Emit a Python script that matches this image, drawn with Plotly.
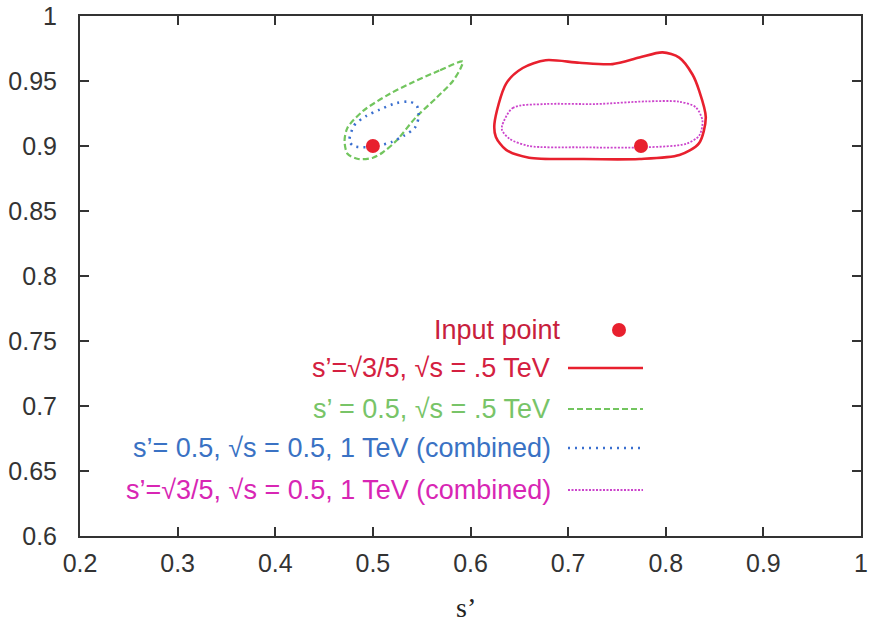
import plotly.graph_objects as go

# ---- data ----
x_ticks = [0.2, 0.3, 0.4, 0.5, 0.6, 0.7, 0.8, 0.9, 1.0]
x_tick_labels = ["0.2", "0.3", "0.4", "0.5", "0.6", "0.7", "0.8", "0.9", "1"]
y_ticks = [0.6, 0.65, 0.7, 0.75, 0.8, 0.85, 0.9, 0.95, 1.0]
y_tick_labels = ["0.6", "0.65", "0.7", "0.75", "0.8", "0.85", "0.9", "0.95", "1"]

input_x = [0.5, 0.7746]
input_y = [0.9, 0.9]

# s'=sqrt(3/5), sqrt(s)=.5 TeV (red solid)
red_x = [0.6245, 0.6365, 0.6535, 0.677, 0.7115, 0.7456, 0.7729, 0.7967, 0.8138,
         0.8274, 0.834, 0.841, 0.834, 0.814, 0.773, 0.7115, 0.660, 0.6365, 0.626]
red_y = [0.917, 0.948, 0.960, 0.966, 0.964, 0.963, 0.968, 0.972, 0.968,
         0.955, 0.943, 0.922, 0.902, 0.893, 0.890, 0.890, 0.891, 0.897, 0.907]

# s'=0.5, sqrt(s)=.5 TeV (green dashed)
green_x = [0.592, 0.568, 0.541, 0.517, 0.490, 0.474, 0.471, 0.474, 0.485, 0.500,
           0.510, 0.524, 0.544, 0.565, 0.582, 0.590]
green_y = [0.965, 0.958, 0.949, 0.940, 0.927, 0.914, 0.904, 0.894, 0.890, 0.891,
           0.895, 0.904, 0.922, 0.937, 0.950, 0.960]

# s'=0.5, sqrt(s)=0.5,1 TeV combined (blue dotted)
blue_x = [0.476, 0.481, 0.493, 0.507, 0.524, 0.538, 0.545, 0.547, 0.543, 0.532,
          0.519, 0.504, 0.493, 0.480]
blue_y = [0.904, 0.916, 0.923, 0.928, 0.933, 0.934, 0.931, 0.923, 0.914, 0.908,
          0.903, 0.900, 0.899, 0.900]

# s'=sqrt(3/5), sqrt(s)=0.5,1 TeV combined (magenta dotted)
mag_x = [0.6324, 0.6433, 0.6774, 0.7286, 0.7797, 0.8138, 0.8309, 0.8376, 0.8343,
         0.8207, 0.7797, 0.7115, 0.660, 0.640, 0.6324]
mag_y = [0.9157, 0.9293, 0.9323, 0.9323, 0.9343, 0.9341, 0.9297, 0.9195, 0.908,
         0.9017, 0.899, 0.899, 0.900, 0.9055, 0.912]

legend_labels = ["Input point",
                 "s’=√3/5, √s = .5 TeV",
                 "s’ = 0.5, √s = .5 TeV",
                 "s’= 0.5, √s = 0.5, 1 TeV (combined)",
                 "s’=√3/5, √s = 0.5, 1 TeV (combined)"]
x_title = "s’"

# ---- styles ----
RED = "#e8202e"
GREEN = "#72c55e"
BLUE = "#3a6fcf"
MAG = "#cc44cc"
text_colors = ["#c8203c", "#d42040", "#78c468", "#3a72c4", "#d826b4"]
AX = "#333333"
FONT = "Liberation Sans, Arial, sans-serif"


def closed(v):
    return list(v) + [v[0]]


fig = go.Figure()
fig.add_trace(go.Scatter(x=closed(red_x), y=closed(red_y), mode="lines",
                         line=dict(color=RED, width=2.6, shape="spline", smoothing=0.8)))
fig.add_trace(go.Scatter(x=closed(mag_x), y=closed(mag_y), mode="lines",
                         line=dict(color=MAG, width=1.8, dash="2px,1.5px", shape="spline", smoothing=0.8)))
fig.add_trace(go.Scatter(x=closed(green_x), y=closed(green_y), mode="lines",
                         line=dict(color=GREEN, width=2.2, dash="6px,3px", shape="spline", smoothing=0.8)))
fig.add_trace(go.Scatter(x=closed(blue_x), y=closed(blue_y), mode="lines",
                         line=dict(color=BLUE, width=2.6, dash="2px,5px", shape="spline", smoothing=0.8)))
fig.add_trace(go.Scatter(x=input_x, y=input_y, mode="markers",
                         marker=dict(color=RED, size=14, line=dict(width=0))))

# ---- legend drawn gnuplot style (text right-aligned, sample to the right) ----
L, R_, T, B = 80, 861, 16, 536
W, H = R_ - L, B - T


def px(xp):
    return (xp - L) / W


def py(yp):
    return (B - yp) / H


rows_y = [330, 368, 409, 448, 490]
text_right = [563, 552, 552, 553, 553]
for lab, col, ry, tr in zip(legend_labels, text_colors, rows_y, text_right):
    fig.add_annotation(x=px(tr), y=py(ry), xref="paper", yref="paper", text=lab,
                       showarrow=False, xanchor="right", yanchor="middle",
                       font=dict(family=FONT, size=27, color=col))

samples = [(RED, 2.6, "solid"), (GREEN, 2.2, "6px,3px"), (BLUE, 2.6, "2px,5px"), (MAG, 1.8, "2px,1.5px")]
for (col, w, d), ry in zip(samples, rows_y[1:]):
    fig.add_shape(type="line", xref="paper", yref="paper",
                  x0=px(568), x1=px(643), y0=py(ry), y1=py(ry),
                  line=dict(color=col, width=w, dash=d))
fig.add_shape(type="circle", xref="paper", yref="paper",
              x0=px(619 - 7), x1=px(619 + 7), y0=py(330 + 7), y1=py(330 - 7),
              fillcolor=RED, line=dict(width=0))

# x-axis title
fig.add_annotation(x=px(466), y=py(607), xref="paper", yref="paper", text=x_title,
                   showarrow=False, xanchor="center", yanchor="middle",
                   font=dict(family="Liberation Serif, Times New Roman, serif", size=28, color="#222"))

fig.update_layout(
    width=875, height=627,
    margin=dict(l=L, r=875 - R_, t=T, b=627 - B, pad=0, autoexpand=False),
    paper_bgcolor="white", plot_bgcolor="white",
    showlegend=False,
    font=dict(family=FONT, color=AX),
)
fig.update_xaxes(range=[0.2, 1.0], tickvals=x_ticks, ticktext=x_tick_labels,
                 ticks="inside", ticklen=9, tickwidth=2, tickcolor=AX,
                 showline=True, linewidth=2, linecolor=AX, mirror="ticks",
                 showgrid=False, zeroline=False, automargin=False,
                 tickfont=dict(family=FONT, size=25, color=AX), ticklabelstandoff=4)
fig.update_yaxes(range=[0.6, 1.0], tickvals=y_ticks, ticktext=y_tick_labels,
                 ticks="inside", ticklen=9, tickwidth=2, tickcolor=AX,
                 showline=True, linewidth=2, linecolor=AX, mirror="ticks",
                 showgrid=False, zeroline=False, automargin=False,
                 tickfont=dict(family=FONT, size=25, color=AX), ticklabelstandoff=16)

fig.write_html("out.html")
